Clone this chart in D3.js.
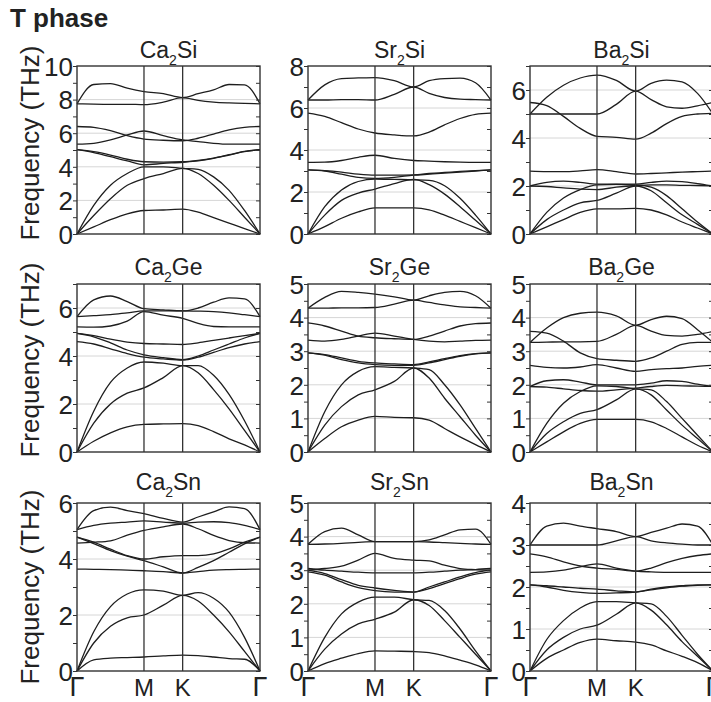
<!DOCTYPE html>
<html><head><meta charset="utf-8">
<script src="https://cdn.jsdelivr.net/npm/d3@7"></script>
<style>
body{margin:0;background:#fff}
svg{display:block}
text{font-family:"Liberation Sans",Arial,sans-serif;fill:#222}
</style>
</head><body>
<svg id="c" width="711" height="702"></svg>
<script>
// path coordinate of sample points (Γ-M-K-Γ)
const kPath = [0, 0.1443, 0.2887, 0.4330, 0.5774, 0.7440, 0.9107, 1.0440, 1.1774, 1.3107, 1.4440, 1.5774];
const symPoints = [0, 0.5774, 0.9107, 1.5774];
const symLabels = ["Γ", "M", "K", "Γ"];
const metals = ["Ca", "Sr", "Ba"];
const anions = ["Si", "Ge", "Sn"];
const yMax = [[10, 8, 7], [7, 5, 5], [6, 5, 4]];
const yStep = [[2, 2, 2], [2, 1, 1], [2, 1, 1]];

const ca2si = [
  [0, 0.42, 0.85, 1.2, 1.4, 1.43, 1.48, 1.3, 0.98, 0.65, 0.32, 0],
  [0, 1.1, 2.1, 2.9, 3.3, 3.6, 3.91, 3.6, 2.9, 2.0, 1.0, 0],
  [0, 1.7, 2.9, 3.6, 4.0, 4.0, 3.91, 3.85, 3.4, 2.6, 1.4, 0],
  [5.02, 4.85, 4.6, 4.35, 4.12, 4.2, 4.27, 4.35, 4.5, 4.7, 4.9, 5.02],
  [5.02, 4.9, 4.7, 4.45, 4.3, 4.28, 4.3, 4.38, 4.52, 4.72, 4.92, 5.02],
  [5.35, 5.4, 5.6, 5.9, 6.13, 5.85, 5.6, 5.5, 5.4, 5.35, 5.35, 5.35],
  [6.4, 6.35, 6.15, 5.85, 5.65, 5.58, 5.55, 5.7, 5.95, 6.2, 6.35, 6.4],
  [7.75, 7.73, 7.72, 7.72, 7.7, 7.85, 8.12, 7.95, 7.85, 7.8, 7.77, 7.75],
  [7.75, 8.9, 8.95, 8.68, 8.48, 8.35, 8.12, 8.35, 8.58, 8.9, 8.88, 7.75]
];
const sr2si = [
  [0, 0.35, 0.75, 1.05, 1.24, 1.24, 1.24, 1.15, 0.9, 0.6, 0.3, 0],
  [0, 0.9, 1.6, 1.95, 2.14, 2.4, 2.6, 2.35, 1.9, 1.3, 0.65, 0],
  [0, 1.3, 2.1, 2.5, 2.62, 2.6, 2.58, 2.55, 2.3, 1.7, 0.9, 0],
  [3.05, 3.0, 2.85, 2.7, 2.65, 2.7, 2.8, 2.85, 2.9, 2.95, 3.0, 3.05],
  [3.05, 3.02, 2.95, 2.85, 2.8, 2.8, 2.82, 2.88, 2.93, 2.98, 3.02, 3.05],
  [3.41, 3.42, 3.5, 3.65, 3.75, 3.6, 3.5, 3.47, 3.44, 3.42, 3.41, 3.41],
  [5.76, 5.6, 5.3, 5.0, 4.81, 4.72, 4.67, 4.85, 5.2, 5.5, 5.7, 5.76],
  [6.38, 6.38, 6.4, 6.4, 6.38, 6.65, 7.0, 6.7, 6.5, 6.42, 6.4, 6.38],
  [6.38, 7.1, 7.4, 7.43, 7.45, 7.3, 7.0, 7.3, 7.4, 7.42, 7.2, 6.38]
];
const ba2si = [
  [0, 0.3, 0.6, 0.9, 1.05, 1.05, 1.07, 1.0, 0.8, 0.5, 0.25, 0],
  [0, 0.6, 1.0, 1.3, 1.4, 1.7, 2.0, 1.8, 1.3, 0.8, 0.4, 0],
  [0, 0.9, 1.5, 1.85, 2.05, 2.07, 2.05, 1.95, 1.6, 1.05, 0.5, 0],
  [2.0, 1.98, 1.92, 1.87, 1.85, 1.95, 2.02, 2.05, 2.05, 2.03, 2.02, 2.0],
  [2.0, 2.15, 2.2, 2.15, 2.08, 2.08, 2.08, 2.15, 2.2, 2.18, 2.1, 2.0],
  [2.62, 2.6, 2.6, 2.63, 2.68, 2.6, 2.5, 2.52, 2.55, 2.58, 2.6, 2.62],
  [5.48, 5.35, 4.9, 4.4, 4.07, 4.03, 3.95, 4.2, 4.6, 4.9, 5.0, 5.03],
  [5.0, 5.0, 5.0, 5.0, 5.0, 5.4, 5.95, 5.6, 5.3, 5.24, 5.34, 5.48],
  [5.0, 5.7, 6.2, 6.5, 6.62, 6.4, 5.95, 6.28, 6.41, 6.34, 5.86, 5.0]
];
const ca2ge = [
  [0, 0.45, 0.8, 1.05, 1.15, 1.17, 1.18, 1.1, 0.85, 0.55, 0.3, 0],
  [0, 1.2, 2.0, 2.45, 2.67, 3.1, 3.6, 3.3, 2.6, 1.8, 0.9, 0],
  [0, 1.7, 2.9, 3.5, 3.75, 3.7, 3.6, 3.6, 3.2, 2.4, 1.3, 0],
  [4.6, 4.5, 4.3, 4.1, 3.95, 3.88, 3.83, 3.95, 4.15, 4.35, 4.5, 4.6],
  [4.94, 4.8, 4.55, 4.25, 4.05, 3.93, 3.85, 4.0, 4.25, 4.5, 4.75, 4.94],
  [4.94, 4.85, 4.7, 4.58, 4.52, 4.5, 4.48, 4.55, 4.65, 4.75, 4.85, 4.94],
  [5.21, 5.2, 5.25, 5.45, 5.85, 5.7, 5.57, 5.36, 5.23, 5.21, 5.21, 5.21],
  [5.64, 5.68, 5.72, 5.8, 5.88, 5.88, 5.88, 5.87, 5.85, 5.8, 5.72, 5.64],
  [5.64, 6.34, 6.5, 6.27, 5.97, 5.92, 5.88, 6.0, 6.24, 6.42, 6.38, 5.64]
];
const sr2ge = [
  [0, 0.4, 0.75, 0.95, 1.06, 1.03, 1.02, 0.95, 0.7, 0.45, 0.22, 0],
  [0, 0.8, 1.35, 1.7, 1.85, 2.1, 2.5, 2.2, 1.6, 1.05, 0.5, 0],
  [0, 1.2, 2.0, 2.4, 2.54, 2.52, 2.5, 2.45, 2.0, 1.4, 0.7, 0],
  [2.95, 2.88, 2.75, 2.65, 2.6, 2.58, 2.58, 2.65, 2.75, 2.85, 2.92, 2.95],
  [2.95, 2.9, 2.8, 2.7, 2.65, 2.62, 2.6, 2.68, 2.78, 2.87, 2.93, 2.95],
  [3.33, 3.3, 3.35, 3.45, 3.54, 3.45, 3.35, 3.3, 3.28, 3.3, 3.32, 3.33],
  [3.84, 3.75, 3.6, 3.45, 3.4, 3.37, 3.35, 3.45, 3.6, 3.75, 3.82, 3.84],
  [4.28, 4.28, 4.29, 4.29, 4.3, 4.4, 4.52, 4.45, 4.38, 4.32, 4.3, 4.28],
  [4.28, 4.6, 4.78, 4.75, 4.7, 4.62, 4.52, 4.65, 4.75, 4.78, 4.65, 4.28]
];
const ba2ge = [
  [0, 0.3, 0.6, 0.85, 0.97, 0.97, 0.97, 0.9, 0.7, 0.45, 0.2, 0],
  [0, 0.55, 0.9, 1.15, 1.26, 1.55, 1.88, 1.7, 1.25, 0.8, 0.4, 0],
  [0, 0.85, 1.45, 1.8, 1.97, 1.95, 1.88, 1.85, 1.5, 1.0, 0.5, 0],
  [1.95, 1.93, 1.88, 1.83, 1.81, 1.85, 1.9, 1.95, 1.98, 1.97, 1.96, 1.95],
  [1.95, 2.12, 2.15, 2.08, 2.0, 2.0, 2.0, 2.05, 2.12, 2.1, 2.02, 1.95],
  [2.58, 2.52, 2.5, 2.53, 2.6, 2.5, 2.4, 2.45, 2.48, 2.5, 2.55, 2.58],
  [3.59, 3.54, 3.3, 2.95, 2.78, 2.73, 2.7, 2.8, 3.0, 3.2, 3.26, 3.26],
  [3.26, 3.27, 3.28, 3.28, 3.29, 3.5, 3.77, 3.6, 3.47, 3.45, 3.5, 3.59],
  [3.26, 3.69, 4.0, 4.13, 4.16, 4.05, 3.77, 3.94, 4.04, 3.97, 3.64, 3.26]
];
const ca2sn = [
  [0, 0.4, 0.46, 0.48, 0.5, 0.54, 0.57, 0.55, 0.5, 0.44, 0.42, 0],
  [0, 1.0, 1.6, 1.9, 2.0, 2.35, 2.7, 2.5, 2.0, 1.4, 0.7, 0],
  [0, 1.4, 2.3, 2.75, 2.9, 2.85, 2.7, 2.8, 2.6, 2.1, 1.2, 0],
  [3.64, 3.63, 3.62, 3.6, 3.58, 3.55, 3.5, 3.55, 3.6, 3.62, 3.63, 3.64],
  [4.78, 4.55, 4.3, 4.1, 3.94, 3.72, 3.5, 3.7, 3.94, 4.24, 4.54, 4.78],
  [4.78, 4.6, 4.35, 4.12, 4.0, 4.08, 4.12, 4.12, 4.18, 4.36, 4.6, 4.78],
  [4.57, 4.6, 4.65, 4.85, 5.02, 5.15, 5.25, 5.08, 4.84, 4.66, 4.58, 4.57],
  [5.05, 5.2, 5.28, 5.32, 5.36, 5.32, 5.28, 5.32, 5.33, 5.3, 5.2, 5.05],
  [5.05, 5.73, 5.85, 5.73, 5.62, 5.45, 5.32, 5.5, 5.68, 5.86, 5.8, 5.05]
];
const sr2sn = [
  [0, 0.22, 0.38, 0.52, 0.6, 0.59, 0.58, 0.55, 0.45, 0.32, 0.18, 0],
  [0, 0.65, 1.1, 1.4, 1.54, 1.75, 2.12, 1.95, 1.5, 1.0, 0.5, 0],
  [0, 1.0, 1.7, 2.05, 2.2, 2.2, 2.12, 2.1, 1.8, 1.25, 0.6, 0],
  [2.95, 2.85, 2.65, 2.48, 2.39, 2.35, 2.35, 2.45, 2.6, 2.75, 2.88, 2.95],
  [3.0, 2.9, 2.72, 2.55, 2.47, 2.4, 2.35, 2.5, 2.65, 2.8, 2.93, 3.0],
  [3.05, 3.0, 2.97, 2.94, 2.92, 2.92, 2.92, 2.94, 2.97, 3.0, 3.02, 3.05],
  [3.0, 3.05, 3.12, 3.3, 3.5, 3.35, 3.3, 3.28, 3.15, 3.05, 3.02, 3.0],
  [3.77, 3.78, 3.8, 3.83, 3.85, 3.85, 3.85, 3.84, 3.82, 3.8, 3.78, 3.77],
  [3.77, 4.15, 4.25, 4.05, 3.85, 3.85, 3.85, 3.9, 4.05, 4.2, 4.22, 3.77]
];
const ba2sn = [
  [0, 0.3, 0.5, 0.68, 0.76, 0.72, 0.69, 0.62, 0.48, 0.35, 0.2, 0],
  [0, 0.5, 0.8, 1.0, 1.09, 1.35, 1.62, 1.45, 1.1, 0.7, 0.35, 0],
  [0, 0.75, 1.2, 1.5, 1.65, 1.65, 1.62, 1.6, 1.3, 0.85, 0.4, 0],
  [2.05, 2.0, 1.92, 1.87, 1.85, 1.86, 1.88, 1.93, 1.98, 2.02, 2.04, 2.05],
  [2.05, 2.03, 2.0, 1.97, 1.95, 1.91, 1.88, 1.95, 2.0, 2.03, 2.05, 2.05],
  [2.35, 2.36, 2.4, 2.48, 2.55, 2.45, 2.38, 2.36, 2.35, 2.35, 2.35, 2.35],
  [2.79, 2.72, 2.6, 2.5, 2.45, 2.42, 2.38, 2.45, 2.58, 2.68, 2.75, 2.79],
  [3.0, 3.0, 3.0, 3.0, 3.0, 3.1, 3.2, 3.1, 3.05, 3.02, 3.0, 3.0],
  [3.0, 3.45, 3.52, 3.45, 3.39, 3.32, 3.2, 3.3, 3.4, 3.5, 3.45, 3.0]
];

const panels = [[ca2si, sr2si, ba2si], [ca2ge, sr2ge, ba2ge], [ca2sn, sr2sn, ba2sn]];

const svg = d3.select("#c");
const colLeft = [77, 308, 530], plotW = 183;
const rowTop = [66, 284, 503], plotH = 168;
const titleY = [58, 275, 490];
const ylabY = [143, 360, 587];
const frameColor = "#333";

svg.append("text").attr("x", 10).attr("y", 27)
  .attr("font-size", 26).attr("font-weight", "bold").text("T phase");

rowTop.forEach((t, r) => {
  svg.append("text")
    .attr("transform", `translate(39,${ylabY[r]}) rotate(-90)`)
    .attr("text-anchor", "middle").attr("font-size", 26)
    .text("Frequency (THz)");
});

panels.forEach((row, r) => row.forEach((bands, c) => {
  const x0 = colLeft[c], y0 = rowTop[r];
  const ymax = yMax[r][c], step = yStep[r][c];
  const x = d3.scaleLinear().domain([0, symPoints[3]]).range([x0, x0 + plotW]);
  const y = d3.scaleLinear().domain([0, ymax]).range([y0 + plotH, y0]);
  const g = svg.append("g");
  const majors = d3.range(0, ymax + 1e-9, step);
  const minors = d3.range(0, ymax + 1e-9, step / 2);

  // grid
  g.selectAll("line.grid").data(majors.filter(v => v > 0 && v < ymax)).join("line")
    .attr("class", "grid")
    .attr("x1", x0).attr("x2", x0 + plotW)
    .attr("y1", d => y(d)).attr("y2", d => y(d))
    .attr("stroke", "#d6d6d6").attr("stroke-width", 1);

  // bands
  const line = d3.line().x((d, i) => x(kPath[i])).y(d => y(d)).curve(d3.curveMonotoneX);
  g.selectAll("path.band").data(bands).join("path")
    .attr("class", "band").attr("d", line)
    .attr("fill", "none").attr("stroke", "#1e1e1e").attr("stroke-width", 1.3);

  // high-symmetry lines
  g.selectAll("line.sym").data([symPoints[1], symPoints[2]]).join("line")
    .attr("class", "sym")
    .attr("x1", d => x(d)).attr("x2", d => x(d))
    .attr("y1", y0).attr("y2", y0 + plotH)
    .attr("stroke", frameColor).attr("stroke-width", 1.3);

  // left ticks (outward) and right ticks (inward)
  const tl = g.append("g").attr("transform", `translate(${x0},0)`)
    .call(d3.axisLeft(y).tickValues(minors).tickSize(4).tickFormat(""));
  const tr = g.append("g").attr("transform", `translate(${x0 + plotW},0)`)
    .call(d3.axisLeft(y).tickValues(minors).tickSize(4).tickFormat(""));
  [tl, tr].forEach(a => {
    a.select(".domain").remove();
    a.selectAll("line").attr("stroke", frameColor).attr("stroke-width", 1);
  });

  // labels
  const la = g.append("g").attr("transform", `translate(${x0},0)`)
    .call(d3.axisLeft(y).tickValues(majors).tickSize(0).tickPadding(4).tickFormat(d3.format("d")));
  la.select(".domain").remove();
  la.selectAll("text").attr("font-size", 26).attr("font-family", "Liberation Sans, Arial, sans-serif")
    .attr("fill", "#222").attr("dy", "0.36em");

  // frame
  g.append("rect").attr("x", x0).attr("y", y0).attr("width", plotW).attr("height", plotH)
    .attr("fill", "none").attr("stroke", frameColor).attr("stroke-width", 1.4);

  // title
  const tt = g.append("text").attr("x", x0 + plotW / 2).attr("y", titleY[r])
    .attr("text-anchor", "middle").attr("font-size", 23);
  tt.append("tspan").text(metals[c]);
  tt.append("tspan").attr("dy", 7).attr("font-size", 14).text("2");
  tt.append("tspan").attr("dy", -7).text(anions[r]);

  // x labels (bottom row)
  if (r === 2) {
    g.selectAll("text.xl").data(symPoints).join("text")
      .attr("class", "xl")
      .attr("x", d => x(d)).attr("y", 696)
      .attr("text-anchor", "middle")
      .attr("font-size", (d, i) => symLabels[i] === "Γ" ? 27 : 24)
      .attr("font-family", (d, i) => symLabels[i] === "Γ" ? "Liberation Serif, DejaVu Serif, serif" : "Liberation Sans, Arial, sans-serif")
      .text((d, i) => symLabels[i]);
  }
}));
</script>
</body></html>
